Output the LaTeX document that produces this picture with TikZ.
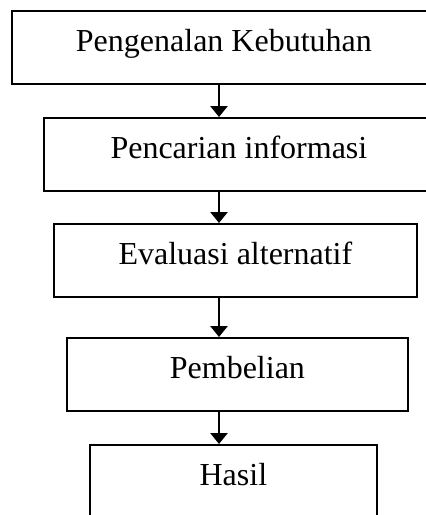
\documentclass[tikz,border=0pt]{standalone}
\usepackage{fontspec}
\setmainfont{Liberation Serif}
\usetikzlibrary{arrows.meta}

\begin{document}
\begin{tikzpicture}[x=0.5pt, y=-0.5pt,
		kotak/.style={draw, line width=0.9pt, rectangle, anchor=north west, inner xsep=0pt, inner ysep=0pt, text height=20.5pt, text depth=16pt, font=\fontsize{16}{19}\selectfont},
		panah/.style={-{Triangle[width=8.5pt,length=5.5pt]}, line width=1.4pt}]
				\useasboundingbox (0,0) rectangle (426,515);
				
				\node[kotak, minimum width=212pt] (pengenalan) at (11,10) {Pengenalan Kebutuhan};
				\node[kotak, minimum width=195pt] (pencarian) at (43,117) {Pencarian informasi};
				\node[kotak, minimum width=181.5pt] (evaluasi) at (53,223) {Evaluasi alternatif};
				\node[kotak, minimum width=170.5pt] (pembelian) at (66,337) {Pembelian};
				\node[kotak, minimum width=143.5pt] (hasil) at (89,444) {Hasil};
				
				\coordinate (poros) at (219,0);
				
				\draw[panah] (pengenalan.south -| poros) -- (pencarian.north -| poros);
				\draw[panah] (pencarian.south -| poros) -- (evaluasi.north -| poros);
				\draw[panah] (evaluasi.south -| poros) -- (pembelian.north -| poros);
				\draw[panah] (pembelian.south -| poros) -- (hasil.north -| poros);
			\end{tikzpicture}
\end{document}
